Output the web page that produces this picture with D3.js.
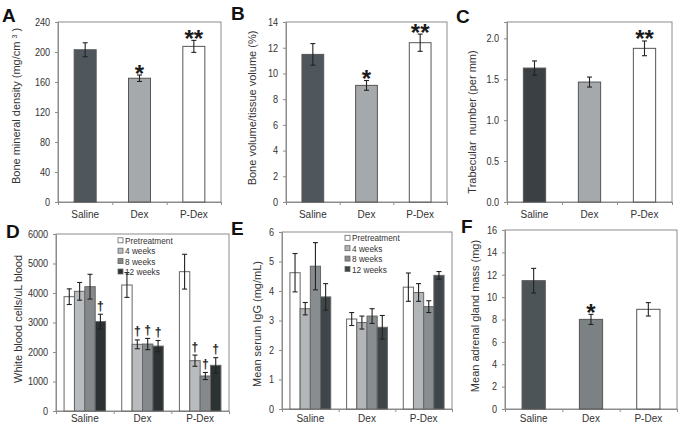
<!DOCTYPE html>
<html>
<head>
<meta charset="utf-8">
<script src="https://cdn.jsdelivr.net/npm/d3@7"></script>
<style>
body { margin: 0; background: #fff; }
svg { font-family: "Liberation Sans", Arial, sans-serif; }
</style>
</head>
<body>
<svg id="fig" width="683" height="429"></svg>
<script>
// categories
var groups = ["Saline", "Dex", "P-Dex"];
var timepoints = ["Pretreatment", "4 weeks", "8 weeks", "12 weeks"];

// A - bone mineral density
var bmdMean = [203, 165, 207.5];
var bmdErr = [9.3, 4.3, 8];
var bmdMarks = ["", "*", "**"];
var bmdTicks = [0, 40, 80, 120, 160, 200, 240];

// B - bone volume / tissue volume
var bvMean = [11.48, 9.07, 12.39];
var bvErr = [0.84, 0.38, 0.67];
var bvMarks = ["", "*", "**"];
var bvTicks = [0, 2, 4, 6, 8, 10, 12, 14];

// C - trabecular number
var tbMean = [1.637, 1.466, 1.878];
var tbErr = [0.087, 0.061, 0.09];
var tbMarks = ["", "", "**"];
var tbTicks = [0, 0.5, 1.0, 1.5, 2.0];

// D - white blood cells (rows = groups, cols = timepoints)
var wbcMean = [[3875, 4057, 4214, 3030], [4271, 2260, 2270, 2200], [4723, 1706, 1186, 1548]];
var wbcErr = [[265, 300, 420, 250], [420, 150, 190, 190], [590, 190, 120, 260]];
var wbcMarks = [["", "", "", "†"], ["", "†", "†", "†"], ["", "†", "†", "†"]];
var wbcTicks = [0, 1000, 2000, 3000, 4000, 5000, 6000];

// E - serum IgG
var iggMean = [[4.62, 3.4, 4.84, 3.8], [3.05, 2.93, 3.15, 2.77], [4.13, 3.95, 3.47, 4.53]];
var iggErr = [[0.65, 0.21, 0.8, 0.45], [0.22, 0.22, 0.25, 0.4], [0.48, 0.3, 0.2, 0.13]];
var iggTicks = [0, 1, 2, 3, 4, 5, 6];

// F - adrenal gland mass
var adrMean = [11.47, 8.01, 8.91];
var adrErr = [1.1, 0.45, 0.6];
var adrMarks = ["", "*", ""];
var adrTicks = [0, 2, 4, 6, 8, 10, 12, 14, 16];

var svg = d3.select("#fig");
var SQ = 0.87;   // the source figure is a bit squeezed sideways
var frameCol = "#8c8c8c";

function hText(sel, x, y, str, size, anchor, weight) {
  return sel.append("text")
    .attr("transform", "translate(" + x + "," + y + ") scale(" + SQ + ",1)")
    .attr("text-anchor", anchor || "middle")
    .attr("font-size", size)
    .attr("font-weight", weight || "normal")
    .attr("fill", "#333")
    .text(str);
}

function frame(p) {
  var g = svg.append("g");
  var y = d3.scaleLinear().domain([0, p.max]).range([p.y1, p.y0]);
  var x = d3.scaleBand().domain(groups).range([p.x0, p.x1]);

  g.append("rect")
    .attr("x", p.x0).attr("y", p.y0)
    .attr("width", p.x1 - p.x0).attr("height", p.y1 - p.y0)
    .attr("fill", "none").attr("stroke", frameCol);

  var ya = g.append("g")
    .attr("transform", "translate(" + p.x0 + ",0)")
    .call(d3.axisLeft(y).tickValues(p.ticks).tickSize(3).tickPadding(6).tickFormat(p.fmt || d3.format("d")));
  ya.select(".domain").attr("stroke", frameCol);
  ya.selectAll(".tick line").attr("stroke", frameCol);
  ya.selectAll(".tick text")
    .attr("font-size", 10.5).attr("fill", "#333")
    .attr("font-family", "Liberation Sans, Arial, sans-serif")
    .attr("transform", "scale(" + SQ + ",1)");

  var bx = d3.scaleLinear().domain([0, groups.length]).range([p.x0, p.x1]);
  var xa = g.append("g")
    .attr("transform", "translate(0," + p.y1 + ")")
    .call(d3.axisBottom(bx).tickValues(d3.range(groups.length + 1)).tickSize(3).tickFormat(""));
  xa.select(".domain").attr("stroke", frameCol);
  xa.selectAll(".tick line").attr("stroke", frameCol);

  groups.forEach(function (gr) {
    hText(g, x(gr) + x.bandwidth() / 2, p.labelY, gr, 11.5);
  });

  // y title
  var t = g.append("text")
    .attr("transform", "translate(" + p.titleX + "," + p.titleY + ") rotate(-90)")
    .attr("text-anchor", "middle")
    .attr("font-size", 11)
    .attr("fill", "#333")
    .style("white-space", "pre");
  p.title.forEach(function (part) {
    var s = t.append("tspan").text(part.t);
    if (part.sup) s.attr("font-size", 7).attr("baseline-shift", "super");
  });

  g.append("text")
    .attr("x", p.lx).attr("y", p.ly)
    .attr("font-size", 19).attr("font-weight", "bold").attr("fill", "#111")
    .text(p.letter);

  return { g: g, y: y, x: x };
}

function errBar(g, cx, yTop, yBot, cap) {
  g.append("line").attr("x1", cx).attr("x2", cx).attr("y1", yTop).attr("y2", yBot)
    .attr("stroke", "#222").attr("stroke-width", 1.1);
  [yTop, yBot].forEach(function (yy) {
    g.append("line").attr("x1", cx - cap).attr("x2", cx + cap).attr("y1", yy).attr("y2", yy)
      .attr("stroke", "#222").attr("stroke-width", 1.1);
  });
}

function singlePanel(p) {
  var f = frame(p);
  var bx = d3.scaleBand().domain(groups).range([p.x0, p.x1]).paddingInner(0.595).paddingOuter(0.2975);
  groups.forEach(function (gr, i) {
    var m = p.mean[i], e = p.err[i];
    f.g.append("rect")
      .attr("x", bx(gr)).attr("y", f.y(m))
      .attr("width", bx.bandwidth()).attr("height", f.y(0) - f.y(m))
      .attr("fill", p.colors[i]).attr("stroke", "#555").attr("stroke-width", 1);
    var cx = bx(gr) + bx.bandwidth() / 2;
    errBar(f.g, cx, f.y(m + e), f.y(m - e), 2.5);
    if (p.marks[i]) {
      f.g.append("text")
        .attr("x", cx).attr("y", f.y(m + e) + 6.5)
        .attr("text-anchor", "middle")
        .attr("font-size", 24).attr("font-weight", "bold").attr("fill", "#1a1a1a")
        .text(p.marks[i]);
    }
  });
}

function groupedPanel(p) {
  var f = frame(p);
  var x0 = d3.scaleBand().domain(groups).range([p.x0, p.x1]).paddingInner(0.28).paddingOuter(0.14);
  var x1 = d3.scaleBand().domain(timepoints).range([0, x0.bandwidth()]);
  groups.forEach(function (gr, i) {
    timepoints.forEach(function (tp, j) {
      var m = p.mean[i][j];
      f.g.append("rect")
        .attr("x", x0(gr) + x1(tp)).attr("y", f.y(m))
        .attr("width", x1.bandwidth()).attr("height", f.y(0) - f.y(m))
        .attr("fill", p.colors[j]).attr("stroke", "#666").attr("stroke-width", 1);
    });
    timepoints.forEach(function (tp, j) {
      var m = p.mean[i][j], e = p.err[i][j];
      var cx = x0(gr) + x1(tp) + x1.bandwidth() / 2;
      errBar(f.g, cx, f.y(m + e), f.y(m - e), 2.5);
      if (p.marks && p.marks[i][j]) {
        // stroked so the thin glyph renders in plain grey-scale
        hText(f.g, cx, f.y(m + e) - 4.5, p.marks[i][j], 13, "middle", "bold")
          .attr("fill", "#1a1a1a").attr("stroke", "#1a1a1a").attr("stroke-width", 0.2);
      }
    });
  });
  // legend
  var lg = f.g.append("g").attr("transform", "translate(" + (p.x0 + p.legX) + "," + (p.y0 + p.legY) + ")");
  timepoints.forEach(function (tp, j) {
    var yy = j * 10.4;
    lg.append("rect").attr("x", 0).attr("y", yy - 2.7).attr("width", 5).attr("height", 5)
      .attr("fill", p.colors[j]).attr("stroke", "#666").attr("stroke-width", 0.8);
    hText(lg, 7, yy + 3.3, tp, 9.5, "start");
  });
}

singlePanel({
  letter: "A", lx: 2, ly: 21.5,
  x0: 58, x1: 221, y0: 22, y1: 202, max: 240, ticks: bmdTicks,
  labelY: 217.5, titleX: 20, titleY: 106,
  title: [{ t: "Bone mineral density (mg/cm " }, { t: "3", sup: true }, { t: " )" }],
  mean: bmdMean, err: bmdErr, marks: bmdMarks,
  colors: ["#50575c", "#a6a9ac", "#ffffff"]
});

singlePanel({
  letter: "B", lx: 231, ly: 20,
  x0: 286, x1: 447, y0: 22, y1: 202, max: 14, ticks: bvTicks,
  labelY: 217.5, titleX: 256, titleY: 108,
  title: [{ t: "Bone volume/tissue volume (%)" }],
  mean: bvMean, err: bvErr, marks: bvMarks,
  colors: ["#50575c", "#a6a9ac", "#ffffff"]
});

singlePanel({
  letter: "C", lx: 456, ly: 22.5,
  x0: 507, x1: 672, y0: 22, y1: 202, max: 2.2, ticks: tbTicks, fmt: d3.format(".1f"),
  labelY: 217.5, titleX: 476, titleY: 122,
  title: [{ t: "Trabecular  number (per mm)" }],
  mean: tbMean, err: tbErr, marks: tbMarks,
  colors: ["#3a4044", "#a6a9ac", "#ffffff"]
});

groupedPanel({
  letter: "D", lx: 6, ly: 238,
  x0: 56, x1: 229, y0: 234, y1: 411, max: 6000, ticks: wbcTicks,
  labelY: 422, titleX: 22, titleY: 319,
  title: [{ t: "White blood cells/uL blood" }],
  mean: wbcMean, err: wbcErr, marks: wbcMarks,
  colors: ["#ffffff", "#b9bcbe", "#86898c", "#2c3134"],
  legX: 62, legY: 6.5
});

groupedPanel({
  letter: "E", lx: 231, ly: 235,
  x0: 282, x1: 452, y0: 232, y1: 409, max: 6, ticks: iggTicks,
  labelY: 422, titleX: 261, titleY: 324,
  title: [{ t: "Mean serum IgG (mg/mL)" }],
  mean: iggMean, err: iggErr,
  colors: ["#ffffff", "#b3b6b8", "#888d90", "#3f4649"],
  legX: 63, legY: 6
});

singlePanel({
  letter: "F", lx: 461, ly: 233,
  x0: 505, x1: 677, y0: 230, y1: 409, max: 16, ticks: adrTicks,
  labelY: 422, titleX: 479, titleY: 316,
  title: [{ t: "Mean adrenal gland mass (mg)" }],
  mean: adrMean, err: adrErr, marks: adrMarks,
  colors: ["#4d5458", "#7c8184", "#ffffff"]
});
</script>
</body>
</html>
